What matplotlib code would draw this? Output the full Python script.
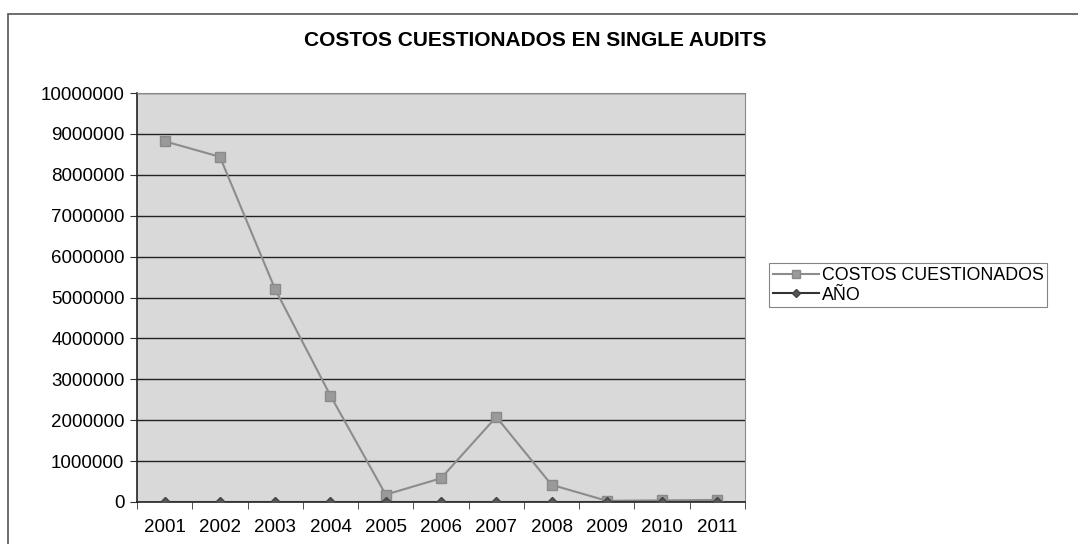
import matplotlib.pyplot as plt
import numpy as np
from matplotlib.patches import Rectangle

plt.rcParams['font.family'] = ['Liberation Sans', 'DejaVu Sans']

anios = ['2001', '2002', '2003', '2004', '2005', '2006', '2007', '2008', '2009', '2010', '2011']
costos = [8820000, 8440000, 5200000, 2600000, 180000, 580000, 2080000, 420000, 30000, 40000, 50000]
anio_vals = [2001, 2002, 2003, 2004, 2005, 2006, 2007, 2008, 2009, 2010, 2011]

fig = plt.figure(figsize=(10.78, 5.44), dpi=100)
# marco exterior del grafico (recortado por la derecha y abajo)
fig.patches.append(Rectangle((8 / 1078, -0.05), 1.2, 1 - 14 / 544 + 0.05,
                             transform=fig.transFigure, fill=False,
                             edgecolor='#555555', linewidth=1.2))

ax = fig.add_axes([137 / 1078, 1 - 502 / 544, (745 - 137) / 1078, (502 - 93) / 544])
ax.set_facecolor('#d9d9d9')

x = np.arange(len(anios))
ax.plot(x, costos, color='#8c8c8c', linewidth=1.5, marker='s', markersize=7,
        markerfacecolor='#9a9a9a', markeredgecolor='#8a8a8a', label='COSTOS CUESTIONADOS', zorder=3)
ax.plot(x, anio_vals, color='#333333', linewidth=1.5, marker='D', markersize=5,
        markerfacecolor='#555555', markeredgecolor='#444444', label='AÑO', zorder=3)

ax.set_ylim(0, 10000000)
ax.set_yticks(np.arange(0, 10000001, 1000000))
ax.set_yticklabels([str(v) for v in range(0, 10000001, 1000000)], fontsize=13.5)
ax.yaxis.grid(True, color='#222222', linewidth=1)
ax.set_axisbelow(True)

ax.set_xlim(-0.5, len(anios) - 0.5)
ax.set_xticks(x)
ax.set_xticklabels(anios, fontsize=13.5)
ax.set_xticks(np.arange(-0.5, len(anios), 1), minor=True)
ax.tick_params(axis='x', which='major', length=0, pad=12)
ax.tick_params(axis='x', which='minor', length=5, color='#333333')
ax.tick_params(axis='y', length=5, color='#333333', pad=4)

for s in ['top', 'right']:
    ax.spines[s].set_color('#888888')
    ax.spines[s].set_linewidth(0.8)
for s in ['left', 'bottom']:
    ax.spines[s].set_color('#222222')
    ax.spines[s].set_linewidth(1.2)

fig.text(535 / 1078, 1 - 40 / 544, 'COSTOS CUESTIONADOS EN SINGLE AUDITS',
         ha='center', va='center', fontsize=15, fontweight='bold')

leg = ax.legend(loc='center left', bbox_to_anchor=(1.04, 0.53), fontsize=12.8,
                frameon=True, fancybox=False, edgecolor='#666666',
                handlelength=2.6, handletextpad=0.15, borderpad=0.2,
                labelspacing=0.15, borderaxespad=0, markerscale=0.8)
leg.get_frame().set_linewidth(0.8)

fig.savefig('out.png', dpi=100)
